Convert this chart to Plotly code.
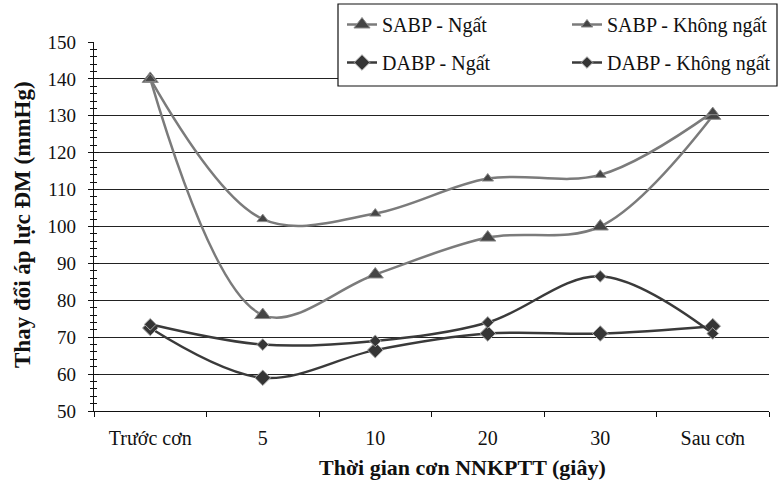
import plotly.graph_objects as go

# Thời điểm đo trong cơn
categories = ["Trước cơn", "5", "10", "20", "30", "Sau cơn"]

# Huyết áp tâm thu (SABP) và tâm trương (DABP), mmHg
sabp_ngat = [140, 76, 87, 97, 100, 130]
sabp_khong_ngat = [140, 102, 103.5, 113, 114, 131]
dabp_ngat = [72.5, 59, 66.5, 71, 71, 73]
dabp_khong_ngat = [73.5, 68, 69, 74, 86.5, 71]

y_ticks = [50, 60, 70, 80, 90, 100, 110, 120, 130, 140, 150]

FONT = "Liberation Serif"
SABP_LINE = "#7b7b7b"
DABP_LINE = "#3a3a3a"

# plot area in pixels
L, T, R, B = 94, 42, 9, 73
W, H = 778, 484
PW, PH = W - L - R, H - T - B

fig = go.Figure()


def add_series(values, name, line_color, symbol, size, fill, edge, legend,
               group, yaxis):
    fig.add_trace(go.Scatter(
        x=categories, y=values, name=name, mode="lines+markers",
        line=dict(color=line_color, width=2.5, shape="spline", smoothing=1.0),
        marker=dict(symbol=symbol, size=size, color=fill,
                    line=dict(color=edge, width=1)),
        legend=legend, legendgroup=group, yaxis=yaxis,
    ))


# diastolic series sit on the overlaid twin axis (same range) so that its
# inner tick marks are drawn as well
add_series(sabp_ngat, "SABP - Ngất", SABP_LINE, "triangle-up", 14,
           "#454545", "#8a8a8a", "legend", "a", "y")
add_series(dabp_ngat, "DABP - Ngất", DABP_LINE, "diamond", 12,
           "#353535", "#a8a8a8", "legend", "b", "y2")
add_series(sabp_khong_ngat, "SABP - Không ngất", SABP_LINE, "triangle-up", 10,
           "#454545", "#8a8a8a", "legend2", "c", "y")
add_series(dabp_khong_ngat, "DABP - Không ngất", DABP_LINE, "diamond", 9,
           "#353535", "#a8a8a8", "legend2", "d", "y2")

legend_common = dict(
    xref="container", yref="container", xanchor="left", yanchor="top",
    bgcolor="rgba(0,0,0,0)", borderwidth=0, tracegroupgap=9,
    font=dict(family=FONT, size=20, color="#111"),
    itemsizing="trace",
)

fig.update_layout(
    width=W, height=H,
    margin=dict(l=L, r=R, t=T, b=B, autoexpand=False),
    paper_bgcolor="white", plot_bgcolor="white",
    font=dict(family=FONT, size=18, color="#111"),
    showlegend=True,
    legend=dict(x=342 / W, y=1 - 5 / H, **legend_common),
    legend2=dict(x=567 / W, y=1 - 5 / H, **legend_common),
    xaxis=dict(
        type="category", range=[-0.5, 5.5], fixedrange=True,
        showline=True, linecolor="#111", linewidth=1.3,
        ticks="outside", tickson="boundaries", ticklen=5, tickwidth=1.3,
        tickcolor="#111", showgrid=False, ticklabelstandoff=9,
        tickangle=0, automargin=False,
        tickfont=dict(family=FONT, size=20),
    ),
    yaxis=dict(
        range=[50, 150], autorange=False, tickvals=y_ticks,
        showline=True, linecolor="#111", linewidth=1.3,
        ticks="outside", ticklen=5, tickwidth=1.3, tickcolor="#111",
        minor=dict(dtick=2, ticks="outside", ticklen=3, tickwidth=1,
                   tickcolor="#111", showgrid=False),
        showgrid=True, gridcolor="#222", gridwidth=1.2,
        zeroline=False, ticklabelstandoff=8, automargin=False,
        tickfont=dict(family=FONT, size=19),
    ),
    yaxis2=dict(
        overlaying="y", side="left", range=[50, 150], autorange=False,
        tickvals=y_ticks, automargin=False,
        ticks="inside", ticklen=5, tickwidth=1.3, tickcolor="#111",
        minor=dict(dtick=2, ticks="inside", ticklen=3, tickwidth=1,
                   tickcolor="#111", showgrid=False),
        showticklabels=False, showgrid=False, zeroline=False, showline=False,
    ),
    annotations=[
        dict(text="<b>Thời gian cơn NNKPTT (giây)</b>",
             xref="paper", yref="paper",
             x=(462 - L) / PW, y=(H - B - 467) / PH,
             xanchor="center", yanchor="middle", showarrow=False,
             font=dict(family=FONT, size=22, color="#111")),
        dict(text="<b>Thay đổi áp lực ĐM (mmHg)</b>",
             xref="paper", yref="paper",
             x=(22 - L) / PW, y=(H - B - 225) / PH, textangle=-90,
             xanchor="center", yanchor="middle", showarrow=False,
             font=dict(family=FONT, size=23, color="#111")),
    ],
    shapes=[dict(
        type="rect", xref="paper", yref="paper", layer="above",
        x0=(338 - L) / PW, x1=(777 - L) / PW,
        y0=(H - B - 86) / PH, y1=(H - B - 4) / PH,
        fillcolor="white", line=dict(color="#111", width=1.2),
    )],
)

fig.write_html("out.html")
